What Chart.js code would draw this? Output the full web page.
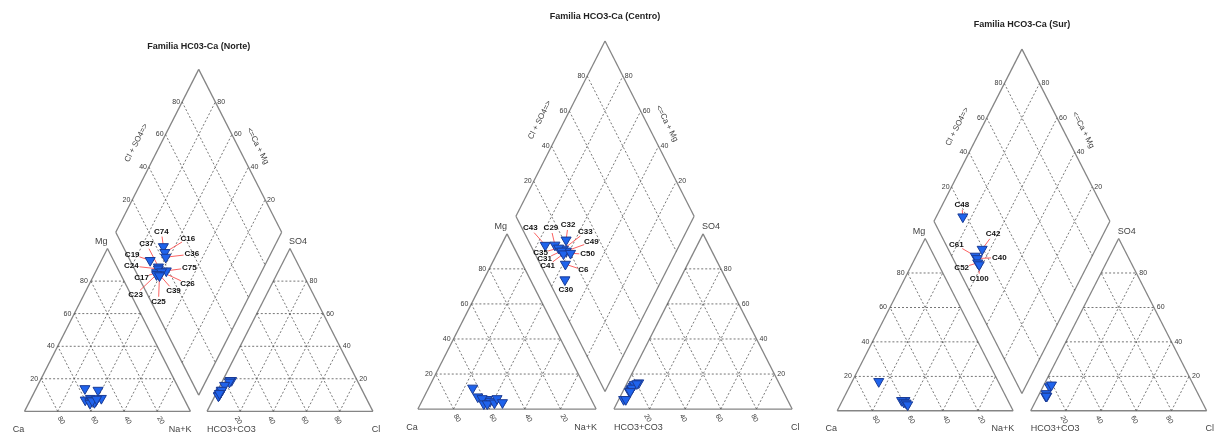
<!DOCTYPE html>
<html>
<head>
<meta charset="utf-8">
<script src="https://cdn.jsdelivr.net/npm/chart.js@4.4.1/dist/chart.umd.min.js"></script>
<style>
  html, body { margin: 0; padding: 0; background: #fff; }
  body { width: 1225px; height: 444px; overflow: hidden; position: relative; }
  canvas { position: absolute; }
</style>
</head>
<body>
<canvas id="piperNorte"></canvas>
<canvas id="piperCentro"></canvas>
<canvas id="piperSur"></canvas>
<script>
const piperGap = 0.1;
const gridTicks = [20, 40, 60, 80];

// Norte (% meq)
const norteTitle = "Familia HC03-Ca (Norte)";
const norteSamples = ["C74", "C16", "C36", "C37", "C19", "C24", "C75", "C17", "C26", "C39", "C23", "C25"];
const norteCa   = [59.9, 56.2, 49.2, 57.6, 56.6, 56.1, 49.7, 58.0, 53.8, 55.1, 55.9, 52.8];
const norteMg   = [7.0, 8.0, 13.0, 6.0, 14.0, 7.0, 8.0, 5.0, 6.5, 5.5, 6.5, 7.5];
const norteNaK  = [33.1, 35.8, 37.8, 36.4, 29.4, 36.9, 42.3, 37.0, 39.7, 39.4, 37.6, 39.7];
const norteHCO3 = [75.7, 76.6, 77.5, 84.9, 87.9, 85.6, 81.4, 87.8, 84.6, 86.7, 88.4, 87.0];
const norteSO4  = [19.0, 19.0, 18.0, 13.0, 10.0, 12.0, 16.0, 10.0, 13.0, 11.0, 9.5, 11.0];
const norteCl   = [5.3, 4.4, 4.5, 2.1, 2.1, 2.4, 2.6, 2.2, 2.4, 2.3, 2.1, 2.0];

// Centro
const centroTitle = "Familia HCO3-Ca (Centro)";
const centroSamples = ["C43", "C29", "C32", "C33", "C49", "C35", "C31", "C41", "C50", "C6", "C30"];
const centroCa   = [63.3, 62.9, 60.1, 58.5, 57.3, 61.0, 61.5, 59.6, 55.3, 52.6, 50.7];
const centroMg   = [12.0, 7.0, 5.0, 5.5, 4.5, 6.0, 3.0, 3.0, 3.5, 6.0, 3.7];
const centroNaK  = [24.7, 30.1, 34.9, 36.0, 38.2, 33.0, 35.5, 37.4, 41.2, 41.4, 45.6];
const centroHCO3 = [91.8, 86.3, 78.6, 82.7, 81.6, 85.1, 84.3, 84.0, 79.9, 85.9, 90.6];
const centroSO4  = [5.5, 10.0, 15.0, 13.0, 14.0, 11.0, 11.5, 12.0, 14.5, 10.0, 5.5];
const centroCl   = [2.7, 3.7, 6.4, 4.3, 4.4, 3.9, 4.2, 4.0, 5.6, 4.1, 3.9];

// Sur
const surTitle = "Familia HCO3-Ca (Sur)";
const surSamples = ["C48", "C42", "C61", "C40", "C52", "C100"];
const surCa   = [67.9, 58.5, 60.4, 59.6, 58.6, 58.2];
const surMg   = [17.0, 6.0, 6.0, 5.0, 4.5, 3.5];
const surNaK  = [15.1, 35.5, 33.6, 35.4, 36.9, 38.3];
const surHCO3 = [82.3, 80.7, 86.6, 86.2, 87.2, 86.9];
const surSO4  = [14.0, 15.0, 8.5, 10.0, 8.5, 8.5];
const surCl   = [3.7, 4.3, 4.9, 3.8, 4.3, 4.6];

// where each sample name sits relative to its point in the diamond (px)
const labelShift = {
  C74: [-2, -15], C16: [23, -14], C36: [26, -3], C37: [-12, -23], C19: [-18, -6], C24: [-27, -3],
  C75: [23, -3], C17: [-15, 5], C26: [26, 12], C39: [14, 16], C23: [-21, 20], C25: [-1, 26],
  C43: [-15, -17], C29: [-4, -17], C32: [2, -15], C33: [22, -17], C49: [25, -9], C35: [-18, 5],
  C31: [-17, 8], C41: [-16, 12], C50: [17, 1], C6: [18, 6], C30: [1, 10],
  C48: [-1, -12], C42: [11, -15], C61: [-19, -11], C40: [22, -1], C52: [-16, 5], C100: [0, 14],
};

const FONT = "'Liberation Sans', Arial, sans-serif";

function cationXY(ca, mg, nak) {
  const t = ca + mg + nak;
  return { x: (nak + mg / 2) / t, y: mg / t };
}
function anionXY(hco3, so4, cl) {
  const t = hco3 + so4 + cl;
  return { x: 1 + piperGap + (cl + so4 / 2) / t, y: so4 / t };
}
function diamondXY(nak, clso4) {
  const a = nak / 100, b = clso4 / 100;
  return { x: 0.5 + piperGap / 2 + (a + b) / 2, y: 1 + piperGap - a + b };
}

function seg(p, q, dashed) {
  return {
    data: [p, q],
    showLine: true,
    pointRadius: 0,
    borderColor: dashed ? "#555" : "#858585",
    borderWidth: dashed ? 0.8 : 1.3,
    borderDash: dashed ? [2, 2] : [],
    order: 1,
  };
}

function drawText(ctx, str, x, y, font, color, align, baseline, angle) {
  ctx.save();
  ctx.font = font;
  ctx.fillStyle = color;
  ctx.textAlign = align;
  ctx.textBaseline = baseline;
  ctx.translate(x, y);
  if (angle) ctx.rotate(angle);
  ctx.fillText(str, 0, 0);
  ctx.restore();
}

function makePlugin(site) {
  const pix = (chart, p) => ({
    x: chart.scales.x.getPixelForValue(p.x),
    y: chart.scales.y.getPixelForValue(p.y),
  });

  return {
    id: "piperText",
    beforeDatasetDraw(chart, args) {
      if (!chart.data.datasets[args.index].marks) return;
      const ctx = chart.ctx;
      ctx.save();
      ctx.font = "bold 8px " + FONT;
      ctx.strokeStyle = "rgba(250, 70, 70, 0.85)";
      ctx.lineWidth = 1;
      site.samples.forEach((name, i) => {
        const p = pix(chart, site.diamond[i]);
        const sh = labelShift[name] || [0, -12];
        const lx = p.x + sh[0], ly = p.y + sh[1];
        const dx = p.x - lx, dy = p.y - ly;
        const dist = Math.hypot(dx, dy);
        const hw = ctx.measureText(name).width / 2 + 1, hh = 5;
        const ux = dx / dist, uy = dy / dist;
        const r = 1 / Math.sqrt((ux / hw) ** 2 + (uy / hh) ** 2);
        if (dist < r + 3) return;
        ctx.beginPath();
        ctx.moveTo(lx + ux * r, ly + uy * r);
        ctx.lineTo(p.x, p.y);
        ctx.stroke();
      });
      ctx.restore();
    },
    afterDatasetsDraw(chart) {
      const ctx = chart.ctx;
      const tickFont = "7px " + FONT;
      const tickColor = "#3a3a3a";
      const nameFont = "9px " + FONT;
      const nameColor = "#444";
      const rot = Math.PI / 3;

      // title
      const tp = pix(chart, { x: 1 + piperGap / 2, y: 2.24 });
      drawText(ctx, site.title, tp.x, tp.y, "bold 9px " + FONT, "#222", "center", "middle");

      gridTicks.forEach((t) => {
        const lbl = String(t);
        let p = pix(chart, cationXY(100 - t, t, 0));
        drawText(ctx, lbl, p.x - 3, p.y, tickFont, tickColor, "right", "middle");
        p = pix(chart, cationXY(t, 0, 100 - t));
        drawText(ctx, lbl, p.x + 3.5, p.y + 9, tickFont, tickColor, "center", "middle", rot);
        p = pix(chart, anionXY(0, t, 100 - t));
        drawText(ctx, lbl, p.x + 3, p.y, tickFont, tickColor, "left", "middle");
        p = pix(chart, anionXY(100 - t, 0, t));
        drawText(ctx, lbl, p.x - 2, p.y + 9, tickFont, tickColor, "center", "middle", rot);
        p = pix(chart, diamondXY(0, t));
        drawText(ctx, lbl, p.x - 2, p.y, tickFont, tickColor, "right", "middle");
        p = pix(chart, diamondXY(100 - t, 100));
        drawText(ctx, lbl, p.x + 2, p.y, tickFont, tickColor, "left", "middle");
      });

      // corner names
      const mgApex = pix(chart, cationXY(0, 100, 0));
      drawText(ctx, "Mg", mgApex.x, mgApex.y - 7, nameFont, nameColor, "right", "middle");
      const so4Apex = pix(chart, anionXY(0, 100, 0));
      drawText(ctx, "SO4", so4Apex.x - 1, so4Apex.y - 7, nameFont, nameColor, "left", "middle");
      const caC = pix(chart, cationXY(100, 0, 0));
      drawText(ctx, "Ca", caC.x - 6, caC.y + 18, nameFont, nameColor, "center", "middle");
      const nakC = pix(chart, cationXY(0, 0, 100));
      drawText(ctx, "Na+K", nakC.x + 1, nakC.y + 18, nameFont, nameColor, "right", "middle");
      const hco3C = pix(chart, anionXY(100, 0, 0));
      drawText(ctx, "HCO3+CO3", hco3C.x, hco3C.y + 18, nameFont, nameColor, "left", "middle");
      const clC = pix(chart, anionXY(0, 0, 100));
      drawText(ctx, "Cl", clC.x + 3, clC.y + 18, nameFont, nameColor, "center", "middle");

      // diamond edge names
      const L = pix(chart, diamondXY(0, 0));
      const T = pix(chart, diamondXY(0, 100));
      const R = pix(chart, diamondXY(100, 100));
      const leftAng = Math.atan2(T.y - L.y, T.x - L.x);
      const rightAng = Math.atan2(R.y - T.y, R.x - T.x);
      const le = pix(chart, diamondXY(0, 55));
      drawText(ctx, "Cl + SO4=>", le.x - 25, le.y, "8px " + FONT, nameColor, "center", "middle", leftAng);
      const re = pix(chart, diamondXY(47, 100));
      drawText(ctx, "<=Ca + Mg", re.x + 20, re.y, "8px " + FONT, nameColor, "center", "middle", rightAng);

      // sample names
      site.samples.forEach((name, i) => {
        const p = pix(chart, site.diamond[i]);
        const sh = labelShift[name] || [0, -12];
        drawText(ctx, name, p.x + sh[0], p.y + sh[1], "bold 8px " + FONT, "#111", "center", "middle");
      });
    },
  };
}

function buildPiper(canvasId, frame, site) {
  const x0 = -0.1, x1 = 2.25, y0 = -0.16, y1 = 2.33;
  const left = Math.round(frame.ox + x0 * frame.s);
  const top = Math.round(frame.oy - y1 * frame.h);
  const width = Math.round((x1 - x0) * frame.s);
  const height = Math.round((y1 - y0) * frame.h);
  const xmin = (left - frame.ox) / frame.s;
  const xmax = xmin + width / frame.s;
  const ymax = (frame.oy - top) / frame.h;
  const ymin = ymax - height / frame.h;

  const canvas = document.getElementById(canvasId);
  canvas.width = width;
  canvas.height = height;
  canvas.style.left = left + "px";
  canvas.style.top = top + "px";

  const datasets = [];

  // grids
  gridTicks.forEach((t) => {
    datasets.push(seg(cationXY(100 - t, t, 0), cationXY(0, t, 100 - t), true));
    datasets.push(seg(cationXY(t, 0, 100 - t), cationXY(t, 100 - t, 0), true));
    datasets.push(seg(cationXY(100 - t, 0, t), cationXY(0, 100 - t, t), true));
    datasets.push(seg(anionXY(100 - t, t, 0), anionXY(0, t, 100 - t), true));
    datasets.push(seg(anionXY(t, 0, 100 - t), anionXY(t, 100 - t, 0), true));
    datasets.push(seg(anionXY(100 - t, 0, t), anionXY(0, 100 - t, t), true));
    datasets.push(seg(diamondXY(t, 0), diamondXY(t, 100), true));
    datasets.push(seg(diamondXY(0, t), diamondXY(100, t), true));
  });

  // outlines
  const ca = cationXY(100, 0, 0), mg = cationXY(0, 100, 0), nak = cationXY(0, 0, 100);
  const hco3 = anionXY(100, 0, 0), so4 = anionXY(0, 100, 0), cl = anionXY(0, 0, 100);
  const dl = diamondXY(0, 0), db = diamondXY(100, 0), dr = diamondXY(100, 100), dt = diamondXY(0, 100);
  [[ca, nak], [nak, mg], [mg, ca], [hco3, cl], [cl, so4], [so4, hco3],
   [dl, db], [db, dr], [dr, dt], [dt, dl]].forEach(([p, q]) => datasets.push(seg(p, q, false)));

  const marks = [];
  site.samples.forEach((_, i) => {
    marks.push(cationXY(site.ca[i], site.mg[i], site.nak[i]));
    marks.push(anionXY(site.hco3[i], site.so4[i], site.cl[i]));
    marks.push(site.diamond[i]);
  });
  datasets.push({
    marks: true,
    data: marks,
    showLine: false,
    pointStyle: "triangle",
    pointRotation: 180,
    pointRadius: 5.8,
    backgroundColor: "#1f63ec",
    borderColor: "#1a3b95",
    borderWidth: 1,
    order: 0,
  });

  new Chart(canvas, {
    type: "scatter",
    data: { datasets },
    options: {
      responsive: false,
      animation: false,
      devicePixelRatio: 1,
      events: [],
      layout: { padding: 0 },
      plugins: { legend: { display: false }, tooltip: { enabled: false } },
      scales: {
        x: { type: "linear", min: xmin, max: xmax, display: false },
        y: { type: "linear", min: ymin, max: ymax, display: false },
      },
    },
    plugins: [makePlugin(site)],
  });
}

function makeSite(title, samples, ca, mg, nak, hco3, so4, cl) {
  return {
    title, samples, ca, mg, nak, hco3, so4, cl,
    diamond: samples.map((_, i) => diamondXY(nak[i], so4[i] + cl[i])),
  };
}

buildPiper("piperNorte", { ox: 18.3, oy: 417.3, s: 171.7, h: 168.3 },
  makeSite(norteTitle, norteSamples, norteCa, norteMg, norteNaK, norteHCO3, norteSO4, norteCl));
buildPiper("piperCentro", { ox: 411.7, oy: 415, s: 184, h: 180.7 },
  makeSite(centroTitle, centroSamples, centroCa, centroMg, centroNaK, centroHCO3, centroSO4, centroCl));
buildPiper("piperSur", { ox: 831, oy: 416.7, s: 181.7, h: 177.7 },
  makeSite(surTitle, surSamples, surCa, surMg, surNaK, surHCO3, surSO4, surCl));
</script>
</body>
</html>
